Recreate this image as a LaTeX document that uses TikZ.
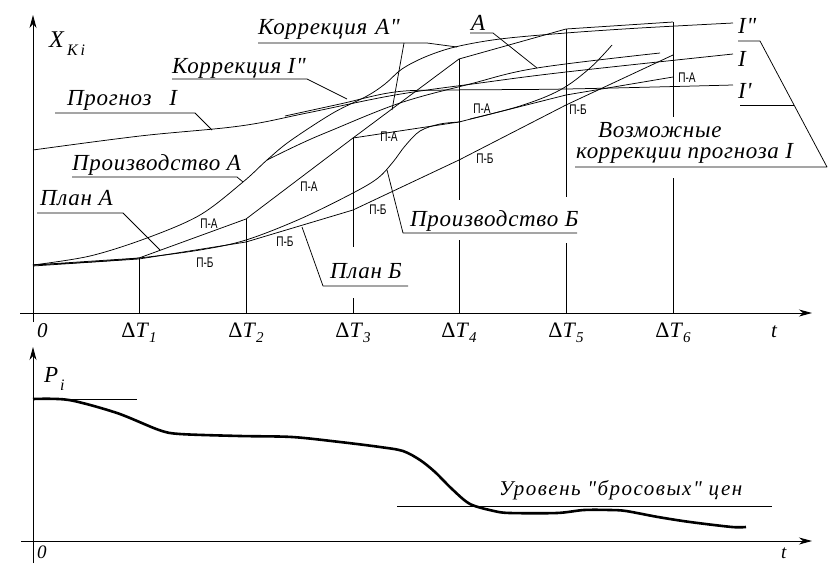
\documentclass[tikz,border=0pt]{standalone}
\usepackage{fontspec}
\setmainfont{Liberation Serif}[Ligatures=TeXOff]
\setsansfont{Liberation Sans}
\usetikzlibrary{arrows.meta}
\newcommand\lblfont{\fontsize{23}{26}\selectfont\itshape\addfontfeature{LetterSpace=3}}
\newcommand\plfont{\sffamily\fontsize{14}{15}\selectfont}
\newcommand\dT[1]{{\upshape Δ}\textit{T}\raisebox{-5pt}{\fontsize{15}{15}\selectfont\itshape #1}}
\begin{document}
\begin{tikzpicture}[x=1pt,y=-1pt]
\tikzset{
  ln/.style={line width=0.75pt, line join=round},
  axisarrow/.style={line width=0.9pt, -{Stealth[length=13pt,width=7pt,inset=4pt]}},
  lbl/.style={inner sep=0pt, anchor=base west, font=\lblfont},
  tick/.style={inner sep=0pt, anchor=base, font=\fontsize{22}{24}\selectfont},
  plbl/.style={inner sep=0pt, font=\plfont},
  price/.style={line width=2.6pt, line join=round},
}
\fill[white] (0,0) rectangle (828,563);
\useasboundingbox (0,0) rectangle (828,563);

% ---------- upper graph: axes ----------
\draw[axisarrow] (33,322) -- (33,15);
\draw[axisarrow] (20,313) -- (812,313);
\node[lbl, font=\fontsize{24}{26}\selectfont\itshape] (xk) at (49,47) {X};
\node[lbl, font=\fontsize{16}{17}\selectfont\itshape] (xksub) at (67,55) {K\,i};
\node[lbl, font=\fontsize{21}{24}\selectfont\itshape] (zero1) at (37,337) {0};
\node[tick] (dt1) at (139,337) {\dT{1}};
\node[tick] (dt2) at (246,337) {\dT{2}};
\node[tick] (dt3) at (353,337) {\dT{3}};
\node[tick] (dt4) at (459,337) {\dT{4}};
\node[tick] (dt5) at (566,337) {\dT{5}};
\node[tick] (dt6) at (673,337) {\dT{6}};
\node[lbl, font=\fontsize{21}{24}\selectfont\itshape] (t1) at (771,337) {t};

% ---------- vertical lines ----------
\draw[ln] (139,258) -- (139,313);
\draw[ln] (246,219) -- (246,313);
\draw[ln] (353,138) -- (353,247);
\draw[ln] (353,298) -- (353,313);
\draw[ln] (459,59) -- (459,200);
\draw[ln] (459,240) -- (459,313);
\draw[ln] (566,29) -- (566,197);
\draw[ln] (566,243) -- (566,313);
\draw[ln] (673,22) -- (673,117);
\draw[ln] (673,178) -- (673,313);

% ---------- curves ----------
% forecast I
\draw[ln] plot[smooth, tension=0.6] coordinates {(33,150) (140,136) (240,126) (307,113) (395,95) (480,83) (566,72) (733,54)};
% correction I'
\draw[ln] plot[smooth, tension=0.6] coordinates {(285,116) (340,104) (395,92) (450,90) (566,89) (733,85)};
% production A -> correction A''
\draw[ln] plot[smooth, tension=0.55] coordinates {(33,265) (90,256) (147,238) (200,215) (243,182) (267,160) (290,141) (333,113) (367,96) (385,84) (402,69) (425,57) (455,47) (500,39) (566,33) (640,28) (733,23)};
% branch A
\draw[ln] plot[smooth, tension=0.6] coordinates {(267,160) (300,144) (330,131) (400,103) (470,84) (537,68) (660,53)};
% plan A (step line)
\draw[ln] (33,265) -- (139,258) -- (246,219) -- (353,138) -- (459,59) -- (566,29) -- (673,22);
\draw[ln] (353,138) -- (459,122) -- (566,95) -- (673,77);
% plan B
\draw[ln] (33,266) -- (139,259) -- (246,242) -- (353,210) -- (459,160) -- (566,105) -- (673,55);
% production B
\draw[ln] plot[smooth, tension=0.55] coordinates {(33,265) (90,262) (139,258) (200,250) (246,240) (300,219) (353,193) (378,178) (393,162) (405,146) (420,131) (440,124) (460,122)};
\draw[ln] plot[smooth, tension=0.6] coordinates {(470,119) (520,106) (560,90) (590,68) (612,45)};

% ---------- small labels ----------
\node[plbl] (pa1) at (209,224) {\scalebox{0.72}[1]{П-А}};
\node[plbl] (pa2) at (309,187) {\scalebox{0.72}[1]{П-А}};
\node[plbl] (pa3) at (389,137) {\scalebox{0.72}[1]{П-А}};
\node[plbl] (pa4) at (482,109) {\scalebox{0.72}[1]{П-А}};
\node[plbl] (pa5) at (687,78) {\scalebox{0.72}[1]{П-А}};
\node[plbl] (pb1) at (205,263) {\scalebox{0.72}[1]{П-Б}};
\node[plbl] (pb2) at (285,242) {\scalebox{0.72}[1]{П-Б}};
\node[plbl] (pb3) at (378,210) {\scalebox{0.72}[1]{П-Б}};
\node[plbl] (pb4) at (485,159) {\scalebox{0.72}[1]{П-Б}};
\node[plbl] (pb5) at (578,110) {\scalebox{0.72}[1]{П-Б}};

% ---------- callout labels ----------
\node[lbl] (kA) at (258,34) {Коррекция\hspace{8pt}A"};
\draw[ln] (258,43) -- (427,43) -- (457,47);
\draw[ln] (404,43) -- (392,110);

\node[lbl] (kI) at (172,73) {Коррекция I"};
\draw[ln] (172,79) -- (307,79) -- (347,99);

\node[lbl] (prI) at (67,105) {Прогноз\hspace{18pt}I};
\draw[ln] (55,113) -- (195,113) -- (212,130);

\node[lbl] (prA) at (72,170) {Производство A};
\draw[ln] (72,177) -- (237,177) -- (243,182);

\node[lbl] (plA) at (40,205) {План A};
\draw[ln] (37,213) -- (123,213) -- (160,250);

\node[lbl] (plB) at (330,278) {План\hspace{6pt}Б};
\draw[ln] (302,227) -- (323,286) -- (408,286);

\node[lbl] (prB) at (410,226) {Производство Б};
\draw[ln] (387,170) -- (403,233) -- (577,233);

\node[lbl] (lA) at (471,30) {A};
\draw[ln] (470,33) -- (493,33) -- (537,68);

\node[lbl] (lI2) at (738,33) {I"};
\node[lbl] (lI) at (738,66) {I};
\node[lbl] (lI1) at (738,98) {I'};

\node[lbl] (poss1) at (598,137) {Возможные};
\node[lbl] (poss2) at (576,158) {коррекции\hspace{6pt}прогноза I};
\draw[ln] (738,41) -- (760,41) -- (827,167) -- (575,167);
\draw[ln] (740,105) -- (794,105);

% ---------- lower graph ----------
\draw[axisarrow] (33,563) -- (33,347);
\draw[axisarrow] (21,541) -- (812,541);
\node[lbl, font=\fontsize{23}{24}\selectfont\itshape] (pp) at (44,382) {P};
\node[lbl, font=\fontsize{16}{16}\selectfont\itshape] (ppsub) at (60,390) {i};
\node[lbl, font=\fontsize{19}{20}\selectfont\itshape] (zero2) at (37,558) {0};
\node[lbl, font=\fontsize{19}{20}\selectfont\itshape] (t2) at (781,558) {t};
\draw[ln] (33,399) -- (137,399);
\draw[ln] (397,506) -- (772,506);
\node[lbl, font=\fontsize{21}{24}\selectfont\itshape\addfontfeature{LetterSpace=7}] (lvl) at (499,495) {Уровень "бросовых" цен};
\draw[price] plot[smooth, tension=0.5] coordinates {(33,399) (69,400) (117,413) (159,430) (180,434) (240,436) (292,437) (340,442) (380,447) (403,451) (420,460) (435,472) (452,489) (470,504) (494,511) (510,513) (557,513) (584,510) (610,510) (626,511) (658,517) (690,522) (732,527) (746,527)};
\end{tikzpicture}
\end{document}
